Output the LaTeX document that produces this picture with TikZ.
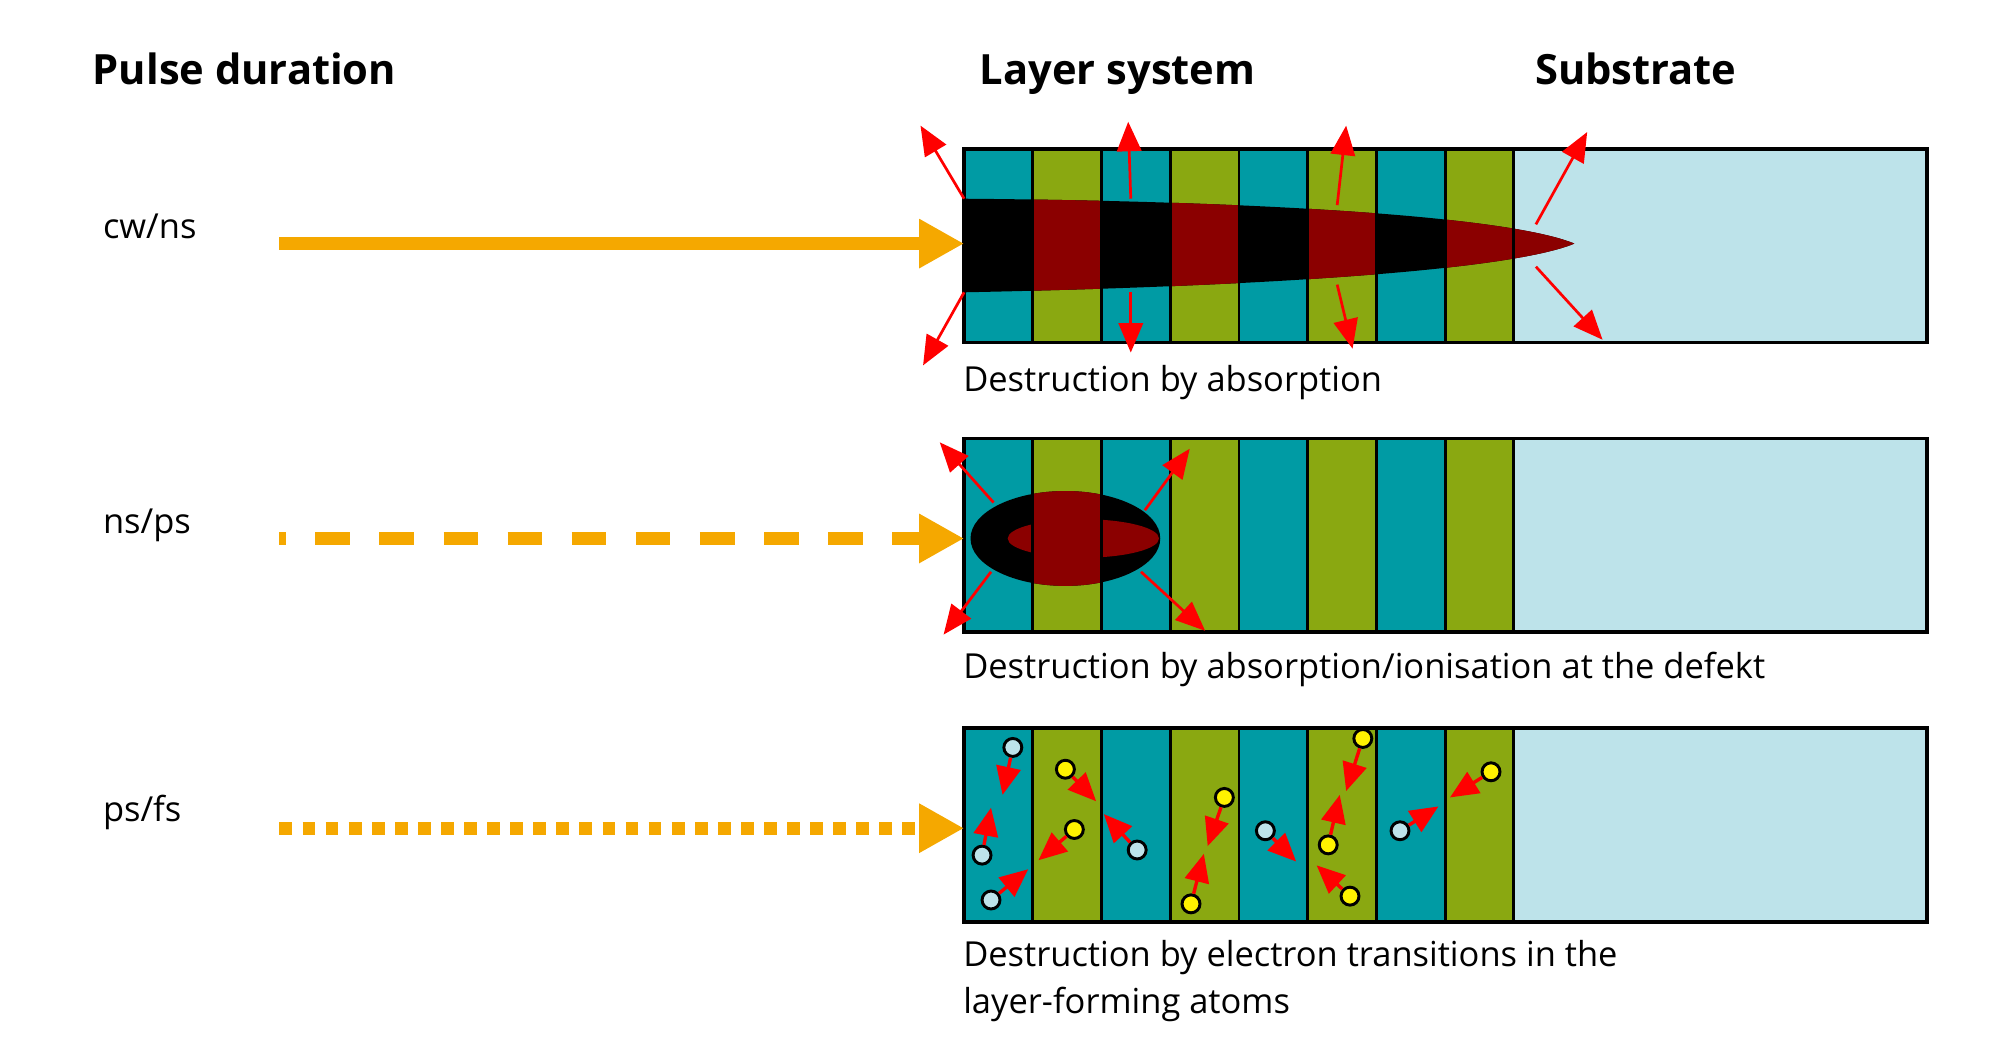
\documentclass[tikz,border=0pt]{standalone}
\usepackage{fontspec}
\setmainfont{Open Sans}
\usetikzlibrary{arrows.meta}
\definecolor{teal}{HTML}{009BA4}
\definecolor{olive}{HTML}{8AA811}
\definecolor{subst}{HTML}{BDE3EA}
\definecolor{dred}{HTML}{8B0000}
\definecolor{pulse}{HTML}{F5A800}
\definecolor{elec}{HTML}{FFF200}
\begin{document}
\begin{tikzpicture}[x=0.02cm,y=-0.02cm]
\tikzstyle{head}=[font=\fontsize{18.5}{22}\selectfont\bfseries, anchor=base west, inner sep=0]
\tikzstyle{lbl}=[font=\fontsize{15.3}{21}\selectfont, anchor=base west, inner sep=0, align=left]
\tikzstyle{beam}=[pulse, line width=5.7pt, -{Triangle[length=7mm,width=7.2mm]}]
\tikzstyle{blast}=[red, line width=1.2pt, -{Triangle[length=4.6mm,width=3.8mm]}]
\tikzstyle{jump}=[red, line width=1.5pt, -{Triangle[length=4.4mm,width=3.8mm]}]
\tikzstyle{atomb}=[circle, draw=black, line width=1.3pt, fill=subst, minimum size=2.8mm, inner sep=0]
\tikzstyle{atomy}=[atomb, fill=elec]
\useasboundingbox (0,0) rectangle (1560,821);

  % headings
  \node[head] (hpulse) at (72,66)   {Pulse duration};
  \node[head] (hlayer) at (764,66)  {Layer system};
  \node[head] (hsub)   at (1197,66) {Substrate};

  % three layer stacks
  \foreach \t in {116,342,568} {
    \fill[subst] (1181,\t) rectangle (1503,\t+151);
    \foreach \i in {0,...,7} {
      \pgfmathsetmacro{\xa}{752+53.6*\i}
      \ifodd\i \fill[olive] (\xa,\t) rectangle (\xa+53.6,\t+151);
      \else \fill[teal] (\xa,\t) rectangle (\xa+53.6,\t+151); \fi
    }
  }

  % cw/ns : absorption plume
  \fill (752,155) .. controls (1000,157) and (1180,170) .. (1228,190)
        .. controls (1180,210) and (1000,223) .. (752,228) -- cycle;
  \begin{scope}
    \clip (752,155) .. controls (1000,157) and (1180,170) .. (1228,190)
          .. controls (1180,210) and (1000,223) .. (752,228) -- cycle;
    \foreach \i in {1,3,5,7} \fill[dred] (752+53.6*\i,100) rectangle (752+53.6*\i+53.6,300);
    \fill[dred] (1181,100) rectangle (1260,300);
  \end{scope}

  % ns/ps : defect
  \fill (831,420) ellipse [x radius=74, y radius=37];
  \begin{scope}
    \clip (831,420) ellipse [x radius=74, y radius=37];
    \fill[dred] (805.6,380) rectangle (859.2,460);
  \end{scope}
  \fill[dred] (845,420) ellipse [x radius=59, y radius=15];

  % stack outlines
  \foreach \t in {116,342,568} {
    \foreach \i in {1,...,8} \draw[line width=1.3pt] (752+53.6*\i,\t) -- (752+53.6*\i,\t+151);
    \draw[line width=1.6pt] (752,\t) rectangle (1503,\t+151);
  }

  % pulse labels and beams
  \node[lbl] (cw) at (80,186) {cw/ns};
  \node[lbl] (ns) at (80,416) {ns/ps};
  \node[lbl] (ps) at (80,641) {ps/fs};
  \coordinate (src1) at (218,190); \coordinate (in1) at (752,190);
  \coordinate (src2) at (218,420); \coordinate (in2) at (752,420);
  \coordinate (src3) at (218,646); \coordinate (in3) at (752,646);
  \draw[beam] (src1) -- (in1);
  \draw[beam, dash pattern=on 5.4mm off 4.6mm, dash phase=4.4mm] (src2) -- (in2);
  \draw[beam, dash pattern=on 2mm off 1.6mm] (src3) -- (in3);

  % captions
  \node[lbl] (cap1) at (751,305) {Destruction by absorption};
  \node[lbl] (cap2) at (751,529) {Destruction by absorption/ionisation at the defekt};
  \node[lbl, anchor=north west] (cap3) at (751,733) {Destruction by electron transitions in the\\layer-forming atoms};

  % ejection arrows, row 1
  \foreach \a/\b/\c/\d [count=\n] in {752/155/718/98, 752/228/720/285, 882/155/880/95, 882/228/882/275,
      1043/160/1050/98, 1043/222/1055/272, 1198/175/1238/103, 1198/208/1250/265} {
    \coordinate (ea\n) at (\a,\b); \coordinate (eb\n) at (\c,\d);
    \draw[blast] (ea\n) -- (eb\n);
  }
  % ejection arrows, row 2
  \foreach \a/\b/\c/\d [count=\n] in {775/392/733/345, 893/398/928/350, 773/446/736/495, 890/446/940/492} {
    \coordinate (da\n) at (\a,\b); \coordinate (db\n) at (\c,\d);
    \draw[blast] (da\n) -- (db\n);
  }

  % electron transitions, row 3
  \foreach \s/\a/\b/\c/\d [count=\n] in {atomb/790/583/782/620, atomb/766/667/773/630, atomb/773/702/802/678,
      atomy/831/600/855/625, atomy/838/647/810/671, atomb/887/663/861/635, atomy/955/622/942/660,
      atomy/929/705/939/666, atomb/987/648/1011/672, atomy/1063/576/1050/617, atomy/1036/659/1045/620,
      atomy/1053/699/1027/675, atomb/1092/648/1122/629, atomy/1163/602/1131/622} {
    \node[\s] (at\n) at (\a,\b) {};
    \coordinate (tg\n) at (\c,\d);
    \draw[jump] (at\n) -- (tg\n);
  }
\end{tikzpicture}
\end{document}
